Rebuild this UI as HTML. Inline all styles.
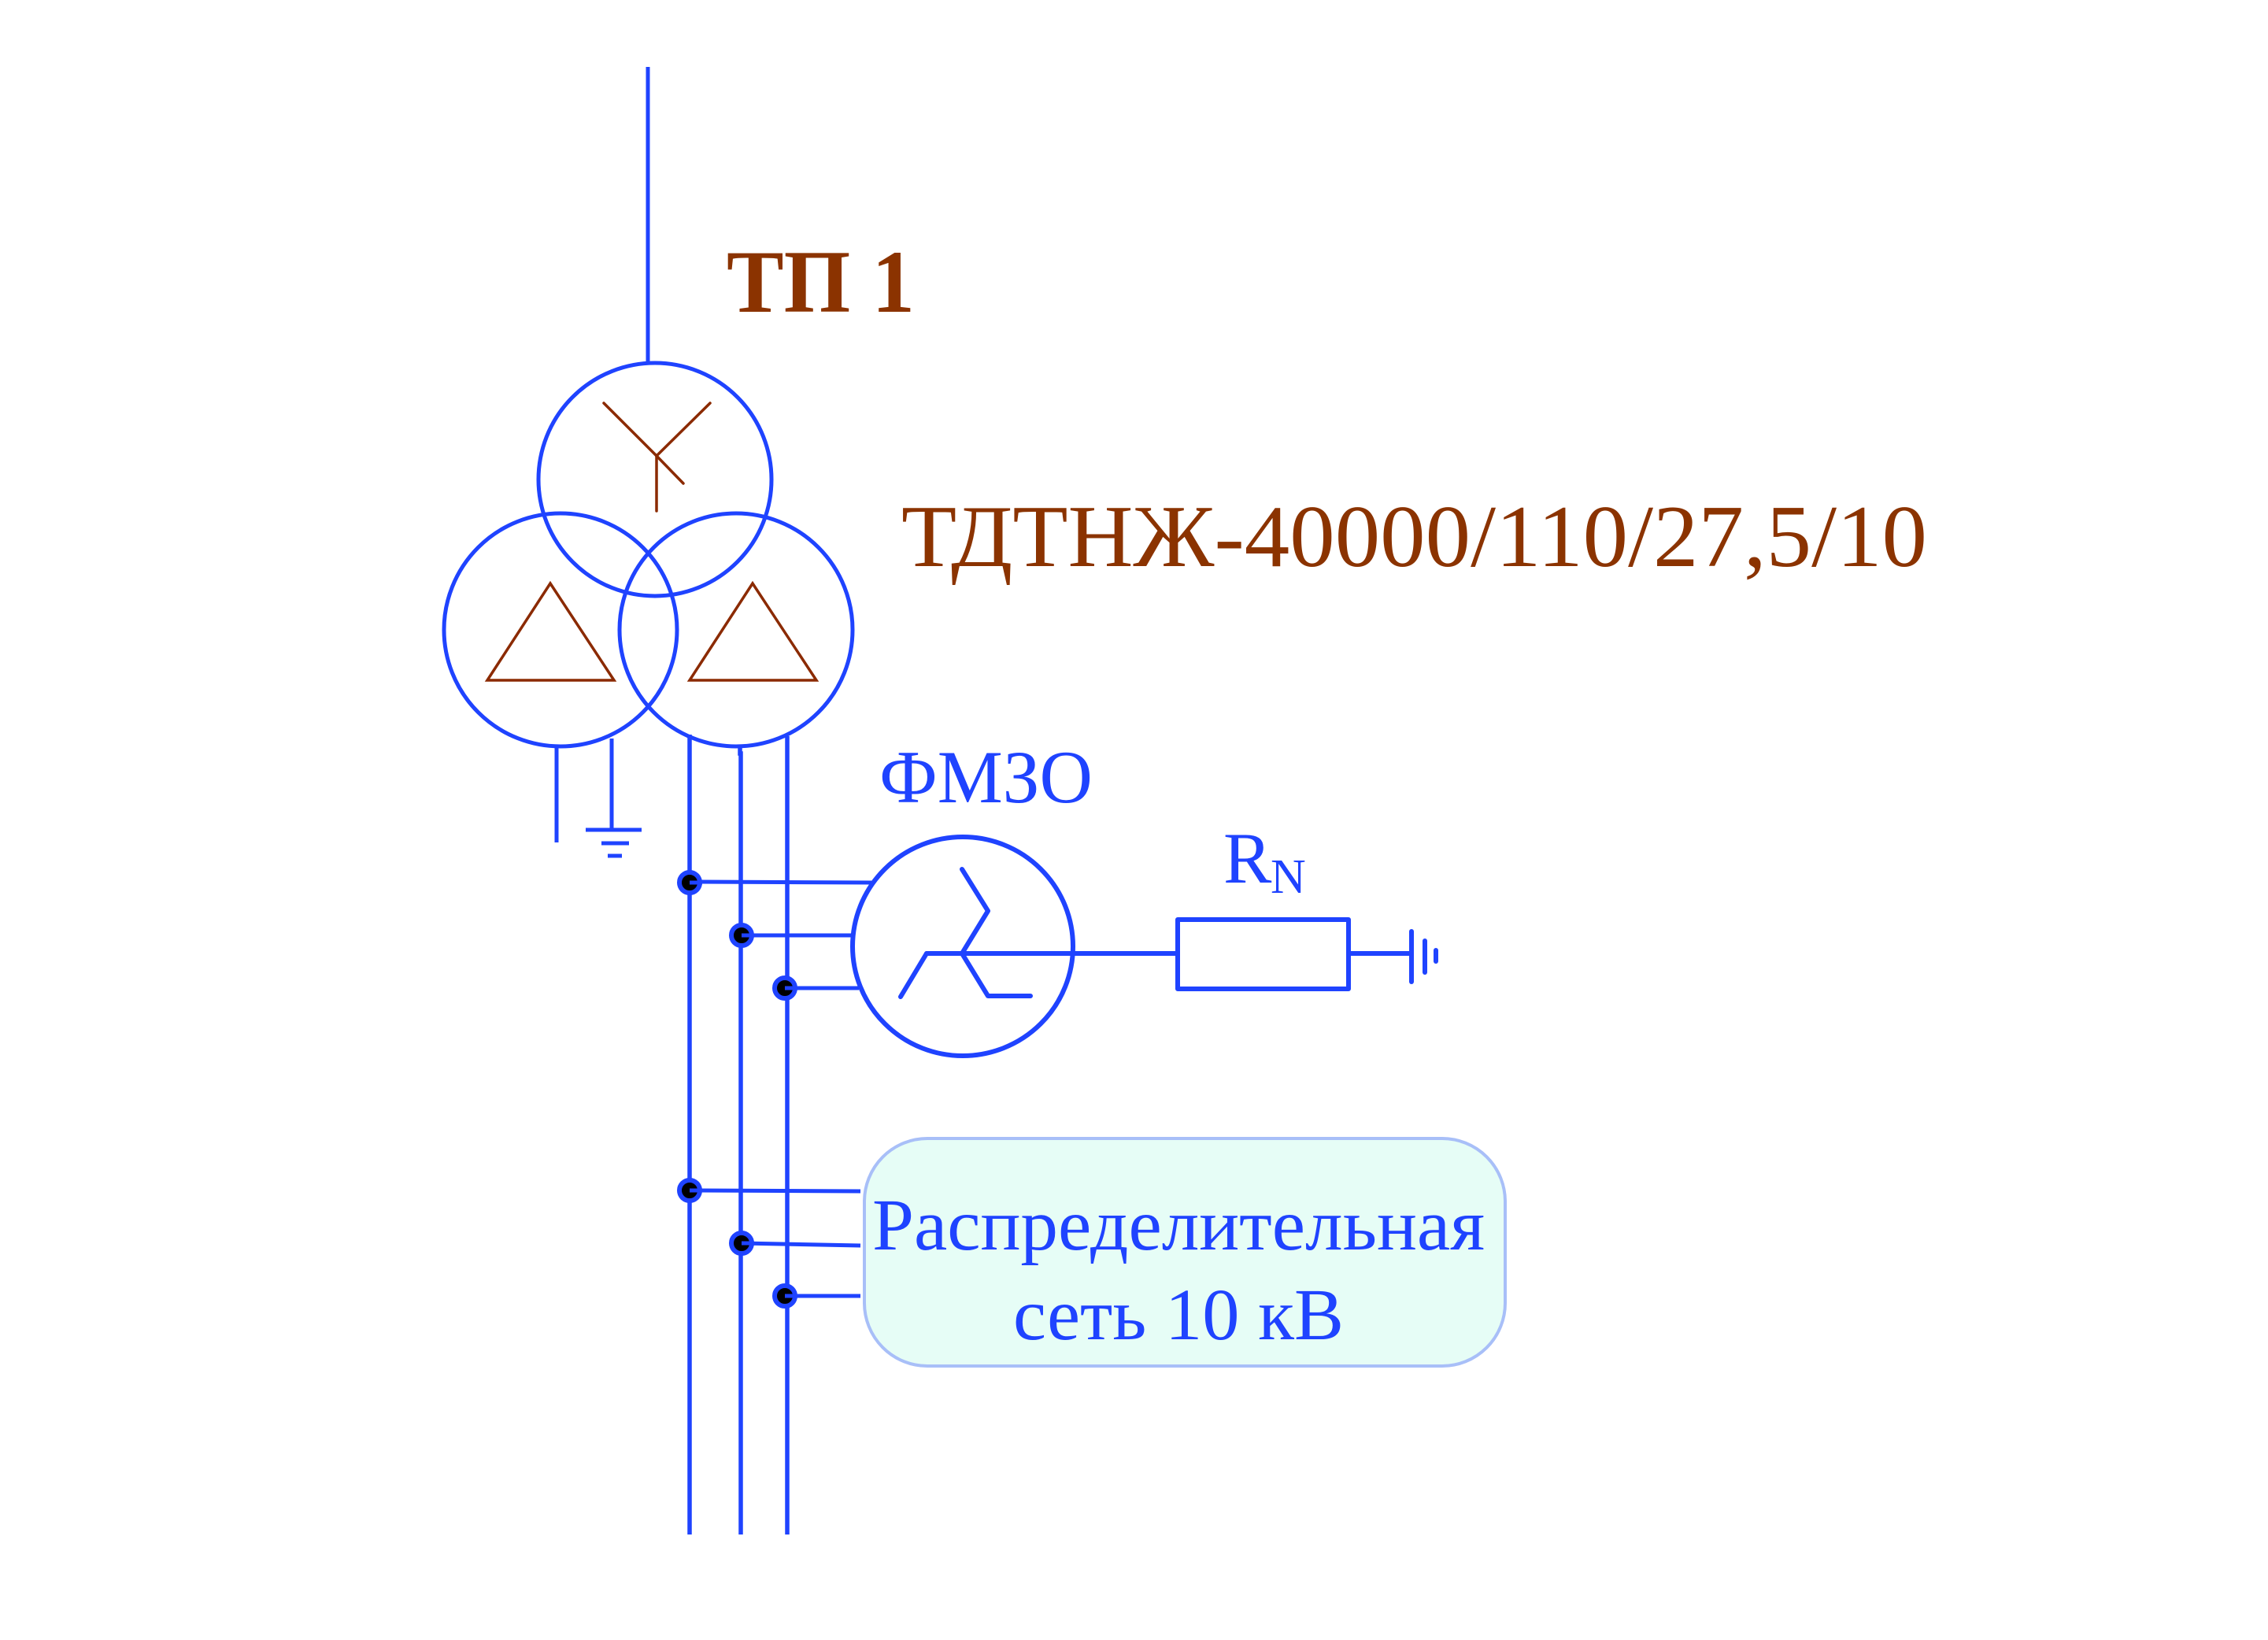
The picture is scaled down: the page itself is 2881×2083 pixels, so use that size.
<!DOCTYPE html>
<html><head><meta charset="utf-8"><style>html,body{margin:0;padding:0;background:#fff}svg{display:block}</style></head>
<body>
<svg width="2881" height="2083" viewBox="0 0 2881 2083" xmlns="http://www.w3.org/2000/svg">
<g fill="none" stroke="#1f43ff" stroke-width="5">
<line x1="823" y1="85" x2="823" y2="461"/>
<ellipse cx="832" cy="609" rx="148" ry="148"/>
<ellipse cx="712" cy="800" rx="148" ry="148"/>
<ellipse cx="935" cy="800" rx="148" ry="148"/>
<line x1="707" y1="948" x2="707" y2="1070"/>
<line x1="777" y1="938" x2="777" y2="1054"/>
<line x1="744" y1="1054" x2="815" y2="1054"/>
<line x1="764" y1="1071" x2="799" y2="1071"/>
<line x1="772" y1="1087" x2="790" y2="1087"/>
<line x1="876" y1="933" x2="876" y2="1949" stroke-width="5.5"/>
<polyline points="940,948 940,957 941,957 941,1949" stroke-width="5.5"/>
<line x1="1000" y1="935" x2="1000" y2="1949" stroke-width="5.5"/>
<line x1="876" y1="1120" x2="1107" y2="1121" stroke-width="5"/>
<line x1="942" y1="1188" x2="1083" y2="1188" stroke-width="5"/>
<line x1="997" y1="1255" x2="1091" y2="1255" stroke-width="5"/>
<line x1="876" y1="1512" x2="1093" y2="1513" stroke-width="5"/>
<line x1="942" y1="1579" x2="1093" y2="1582" stroke-width="5"/>
<line x1="997" y1="1646" x2="1093" y2="1646" stroke-width="5"/>
<ellipse cx="1223" cy="1202" rx="140" ry="139" stroke-width="6"/>
<g stroke-width="6" stroke-linecap="round" stroke-linejoin="round">
<line x1="1177" y1="1211" x2="1496" y2="1211"/>
<line x1="1177" y1="1211" x2="1144" y2="1266"/>
<polyline points="1222,1211 1255,1157 1222,1104"/>
<polyline points="1222,1211 1255,1265 1309,1265"/>
<rect x="1496" y="1168" width="217" height="88"/>
<line x1="1713" y1="1211" x2="1793" y2="1211"/>
<line x1="1793" y1="1183" x2="1793" y2="1247"/>
<line x1="1810" y1="1195" x2="1810" y2="1235"/>
<line x1="1824" y1="1207" x2="1824" y2="1221"/>
</g>
</g>
<g fill="#000" stroke="#1f43ff" stroke-width="6">
<circle cx="876" cy="1121" r="13"/><circle cx="942" cy="1188" r="13"/><circle cx="997" cy="1255" r="13"/>
<circle cx="876" cy="1512" r="13"/><circle cx="942" cy="1579" r="13"/><circle cx="997" cy="1646" r="13"/>
</g>
<g stroke="#1f43ff" stroke-width="5">
<line x1="876" y1="1121" x2="892" y2="1121"/><line x1="942" y1="1188" x2="958" y2="1188"/><line x1="997" y1="1255" x2="1013" y2="1255"/>
<line x1="876" y1="1512" x2="892" y2="1512"/><line x1="942" y1="1579" x2="958" y2="1579"/><line x1="997" y1="1646" x2="1013" y2="1646"/>
</g>
<g fill="none" stroke="#8b2a00" stroke-width="3.5" stroke-linecap="round">
<line x1="767" y1="512" x2="834" y2="579"/>
<line x1="902" y1="512" x2="834" y2="579"/>
<line x1="834" y1="579" x2="868" y2="614"/>
<line x1="834" y1="579" x2="834" y2="649"/>
<polygon points="699,741 619,864 780,864"/>
<polygon points="956,741 876,864 1037,864"/>
</g>
<rect x="1098" y="1446" width="814" height="289" rx="80" fill="#e6fdf6" stroke="#a8bff8" stroke-width="4"/>
<g font-family="Liberation Serif, serif">
<text x="923" y="396" font-size="113" font-weight="bold" fill="#8b3300" textLength="239" lengthAdjust="spacingAndGlyphs">ТП 1</text>
<text x="1145" y="719" font-size="112" fill="#8b3300" textLength="1303" lengthAdjust="spacingAndGlyphs">ТДТНЖ-40000/110/27,5/10</text>
<text x="1117" y="1019" font-size="95" fill="#1f43ff" textLength="271" lengthAdjust="spacingAndGlyphs">ФМЗО</text>
<text x="1554" y="1121" font-size="92" fill="#1f43ff">R</text>
<text x="1614" y="1134" font-size="62" fill="#1f43ff">N</text>
<text x="1497" y="1587" font-size="93" fill="#1f43ff" text-anchor="middle" textLength="778" lengthAdjust="spacingAndGlyphs">Распределительная</text>
<text x="1497" y="1701" font-size="93" fill="#1f43ff" text-anchor="middle" textLength="420" lengthAdjust="spacingAndGlyphs">сеть 10 кВ</text>
</g>
</svg>
</body></html>
